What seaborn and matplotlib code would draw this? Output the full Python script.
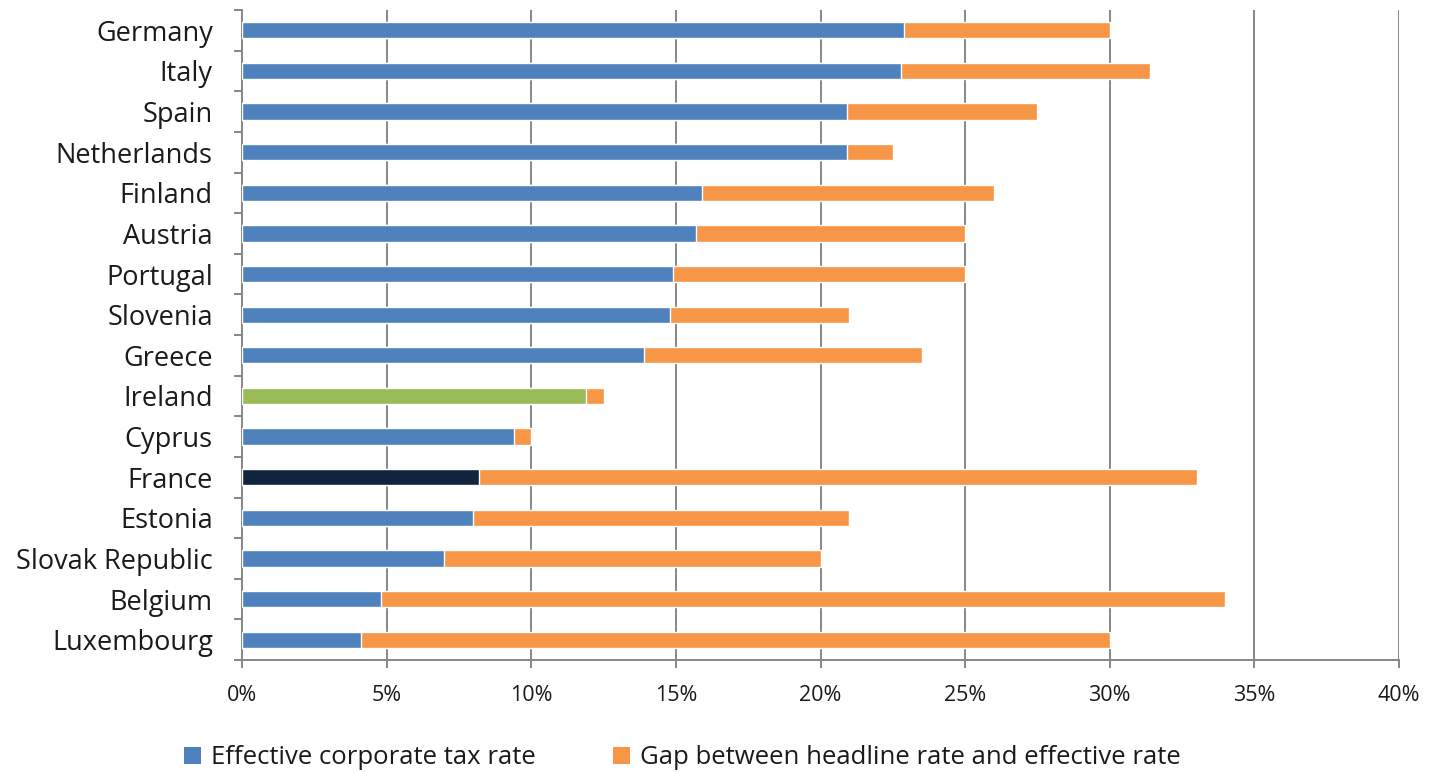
import numpy as np
import pandas as pd
import matplotlib
matplotlib.use("Agg")
import matplotlib.pyplot as plt
from matplotlib.patches import Patch
from matplotlib.ticker import FixedLocator, FuncFormatter
import seaborn as sns

countries = ["Germany", "Italy", "Spain", "Netherlands", "Finland", "Austria",
             "Portugal", "Slovenia", "Greece", "Ireland", "Cyprus", "France",
             "Estonia", "Slovak Republic", "Belgium", "Luxembourg"]
effective = [22.9, 22.8, 20.9, 20.9, 15.9, 15.7, 14.9, 14.8, 13.9, 11.9,
             9.4, 8.2, 8.0, 7.0, 4.8, 4.1]
gap = [7.1, 8.6, 6.6, 1.6, 10.1, 9.3, 10.1, 6.2, 9.6, 0.6,
       0.6, 24.8, 13.0, 13.0, 29.2, 25.9]
x_ticks = [0, 5, 10, 15, 20, 25, 30, 35, 40]
legend_labels = ["Effective corporate tax rate",
                 "Gap between headline rate and effective rate"]

BLUE = "#4F81BD"
ORANGE = "#F79646"
GREEN = "#9BBB59"
NAVY = "#10243E"
GRID = "#878787"
TXT = "#1a1a1a"

sns.set_theme(style="white")
plt.rcParams["font.family"] = ["Open Sans", "DejaVu Sans"]

df = pd.DataFrame({"country": countries, "effective": effective, "gap": gap})
df["total"] = df["effective"] + df["gap"]

eff_colors = {c: BLUE for c in countries}
eff_colors["Ireland"] = GREEN
eff_colors["France"] = NAVY

fig = plt.figure(figsize=(14.31, 7.72), dpi=100)
ax = fig.add_axes([242 / 1431, 1 - 660 / 772, (1399 - 242) / 1431, 650 / 772])

sns.barplot(data=df, y="country", x="total", color=ORANGE, orient="h",
            width=0.4, ax=ax, saturation=1, zorder=3)
sns.barplot(data=df, y="country", x="effective", hue="country",
            palette=eff_colors, orient="h", width=0.4, ax=ax,
            saturation=1, legend=False, zorder=4)

ax.set_xlim(0, 40)
ax.set_ylim(len(countries) - 0.5, -0.5)
ax.set_xticks(x_ticks)
ax.xaxis.set_major_formatter(FuncFormatter(lambda v, p: f"{int(v)}%"))
ax.set_xlabel("")
ax.set_ylabel("")

ax.grid(False)
for xv in x_ticks[1:]:
    ax.axvline(xv, color=GRID, lw=1.4, zorder=1)

for s in ["top", "right"]:
    ax.spines[s].set_visible(False)
for s in ["left", "bottom"]:
    ax.spines[s].set_color(GRID)
    ax.spines[s].set_linewidth(1.4)

ax.yaxis.set_minor_locator(FixedLocator(np.arange(-0.5, len(countries), 1)))
ax.tick_params(axis="y", which="major", length=0, pad=21, labelsize=19.5,
               labelcolor=TXT)
ax.tick_params(axis="y", which="minor", length=6, width=1.4, color=GRID, left=True)
ax.tick_params(axis="x", which="major", length=6, width=1.4, color=GRID,
               bottom=True, pad=12, labelsize=15.5, labelcolor=TXT)

handles = [Patch(facecolor=BLUE, edgecolor="none"),
           Patch(facecolor=ORANGE, edgecolor="none")]
fig.legend(handles, legend_labels, loc="lower center", ncol=2, frameon=False,
           bbox_to_anchor=(0.477, -0.028), fontsize=18.5, handlelength=0.66,
           handleheight=0.66, handletextpad=0.4, columnspacing=3.0,
           labelcolor=TXT)

fig.savefig("out.png", dpi=100)
